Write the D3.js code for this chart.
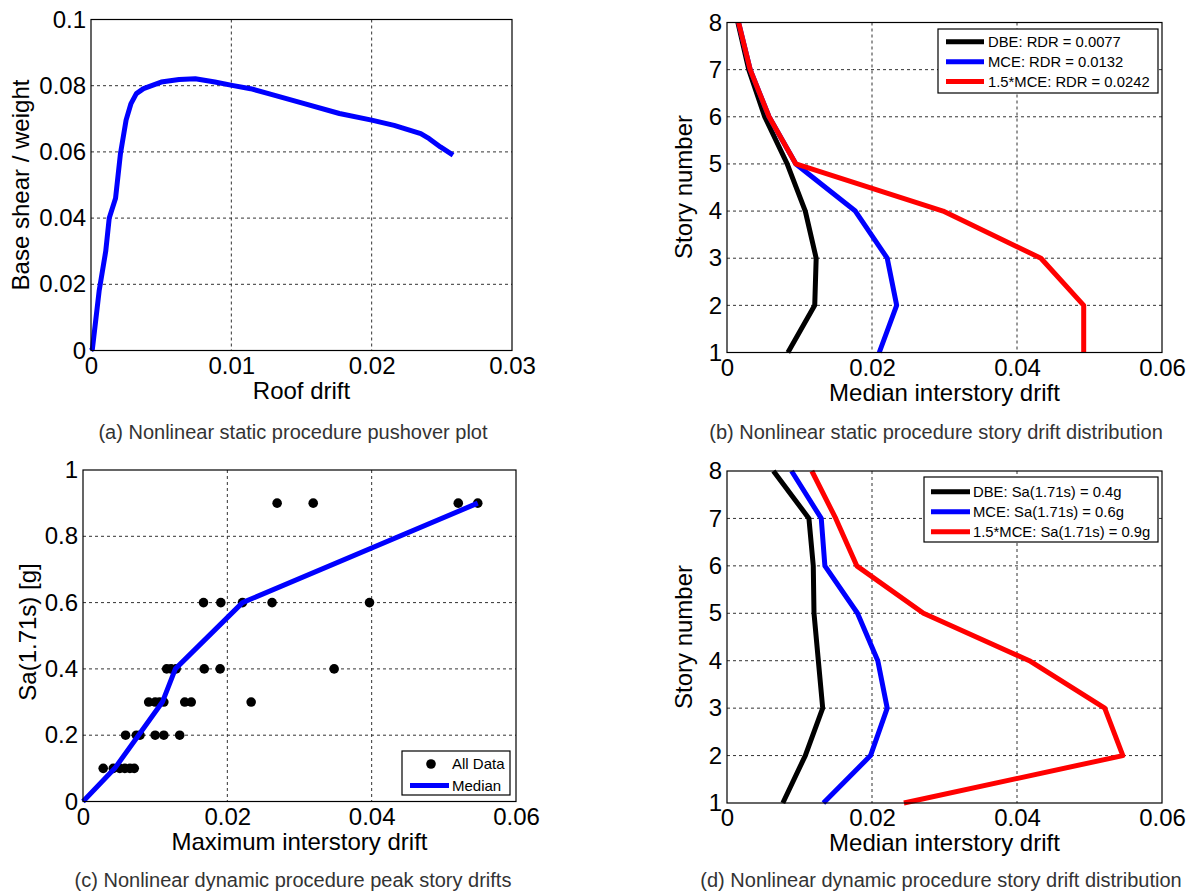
<!DOCTYPE html>
<html>
<head>
<meta charset="utf-8">
<script src="https://cdn.jsdelivr.net/npm/d3@7/dist/d3.min.js"></script>
<style>
body { margin: 0; background: #fff; }
svg text { font-family: "Liberation Sans", Arial, sans-serif; }
</style>
</head>
<body>
<svg id="fig" width="1203" height="895"></svg>
<script>
// (a) pushover curve
var pushDrift = [0, 0.0001, 0.00058, 0.00105, 0.0013, 0.00175, 0.0021, 0.0025, 0.00285, 0.00323, 0.00374, 0.0050, 0.00628, 0.00743, 0.00883, 0.01005, 0.01137, 0.01265, 0.0152, 0.0177, 0.0200, 0.0216, 0.0235, 0.0241, 0.0249, 0.0258];
var pushShear = [0, 0.0005, 0.018, 0.030, 0.040, 0.046, 0.0595, 0.0696, 0.0746, 0.0776, 0.0791, 0.0811, 0.0819, 0.0821, 0.0811, 0.0801, 0.0791, 0.0776, 0.0746, 0.0716, 0.0696, 0.068, 0.0655, 0.064, 0.0615, 0.059];

// (b) static story drifts, story 1..8
var stories = [1, 2, 3, 4, 5, 6, 7, 8];
var nspDBE = [0.0084, 0.0121, 0.0123, 0.0108, 0.0083, 0.0052, 0.0030, 0.0015];
var nspMCE = [0.0210, 0.0234, 0.0221, 0.0177, 0.0095, 0.0058, 0.0032, 0.0016];
var nspMCE15 = [0.0492, 0.0492, 0.0433, 0.0298, 0.0095, 0.0058, 0.0032, 0.0016];
var nspNames = ["DBE: RDR = 0.0077", "MCE: RDR = 0.0132", "1.5*MCE: RDR = 0.0242"];

// (c) peak story drifts, all records + median
var allDrift = [0.0028, 0.0042, 0.0051, 0.0058, 0.0065, 0.0071,
                0.0059, 0.0074, 0.0079, 0.0100, 0.0112, 0.0134,
                0.0091, 0.0100, 0.0106, 0.0112, 0.0141, 0.0150, 0.0233,
                0.0116, 0.0122, 0.0129, 0.0168, 0.0190, 0.0348,
                0.0167, 0.0191, 0.0221, 0.0262, 0.0397,
                0.0269, 0.0319, 0.0520, 0.0547];
var allSa = [0.1, 0.1, 0.1, 0.1, 0.1, 0.1,
             0.2, 0.2, 0.2, 0.2, 0.2, 0.2,
             0.3, 0.3, 0.3, 0.3, 0.3, 0.3, 0.3,
             0.4, 0.4, 0.4, 0.4, 0.4, 0.4,
             0.6, 0.6, 0.6, 0.6, 0.6,
             0.9, 0.9, 0.9, 0.9];
var medDrift = [0, 0.0044, 0.0077, 0.0110, 0.0128, 0.0221, 0.0547];
var medSa = [0, 0.1, 0.2, 0.3, 0.4, 0.6, 0.9];

// (d) dynamic story drifts
var ndpDBE = [0.0077, 0.0108, 0.0132, 0.0126, 0.0120, 0.0119, 0.0113, 0.0064];
var ndpMCE = [0.0133, 0.0198, 0.0221, 0.0208, 0.0180, 0.0135, 0.0130, 0.0089];
var ndpMCE15 = [0.0244, 0.0546, 0.0521, 0.0417, 0.0271, 0.0179, 0.0150, 0.0117];
var ndpNames = ["DBE: Sa(1.71s) = 0.4g", "MCE: Sa(1.71s) = 0.6g", "1.5*MCE: Sa(1.71s) = 0.9g"];

var captions = ["(a) Nonlinear static procedure pushover plot",
                "(b) Nonlinear static procedure story drift distribution",
                "(c) Nonlinear dynamic procedure peak story drifts",
                "(d) Nonlinear dynamic procedure story drift distribution"];

var colors = ["#000000", "#0000ff", "#ff0000"];
var FONT = "'Liberation Sans', Arial, sans-serif";
var LW = 5;
var svg = d3.select("#fig");

function fmt(d) { return String(+d.toFixed(3)); }

// frame, grid and tick labels for one panel
function panel(box, xDom, yDom, xTicks, yTicks, xLabel, yLabel, yLabelX, yLabelY) {
    var x = d3.scaleLinear().domain(xDom).range([box.x0, box.x1]);
    var y = d3.scaleLinear().domain(yDom).range([box.y1, box.y0]);
    var g = svg.append("g");

    var grid = g.append("g").attr("stroke", "#333").attr("stroke-width", 1).attr("stroke-dasharray", "3,3");
    grid.selectAll(".gx").data(xTicks.slice(1, -1)).enter().append("line")
        .attr("x1", function (d) { return x(d); }).attr("x2", function (d) { return x(d); })
        .attr("y1", box.y0).attr("y2", box.y1);
    grid.selectAll(".gy").data(yTicks.slice(1, -1)).enter().append("line")
        .attr("y1", function (d) { return y(d); }).attr("y2", function (d) { return y(d); })
        .attr("x1", box.x0).attr("x2", box.x1);

    var ax = g.append("g").attr("transform", "translate(0," + box.y1 + ")")
        .call(d3.axisBottom(x).tickValues(xTicks).tickFormat(fmt).tickSize(0).tickPadding(6));
    var ay = g.append("g").attr("transform", "translate(" + box.x0 + ",0)")
        .call(d3.axisLeft(y).tickValues(yTicks).tickFormat(fmt).tickSize(0).tickPadding(5));
    [ax, ay].forEach(function (a) {
        a.select(".domain").remove();
        a.selectAll("text").attr("font-size", 24).attr("fill", "#000").style("font-family", FONT);
    });

    g.append("text").attr("x", (box.x0 + box.x1) / 2).attr("y", box.y1 + 48)
        .attr("text-anchor", "middle").attr("font-size", 24).text(xLabel);
    g.append("text").attr("transform", "translate(" + yLabelX + "," + yLabelY + ") rotate(-90)")
        .attr("text-anchor", "middle").attr("dy", "0.35em").attr("font-size", 24).text(yLabel);

    return { g: g, x: x, y: y, box: box };
}

function frame(p) {
    p.g.append("rect").attr("x", p.box.x0).attr("y", p.box.y0)
        .attr("width", p.box.x1 - p.box.x0).attr("height", p.box.y1 - p.box.y0)
        .attr("fill", "none").attr("stroke", "#000").attr("stroke-width", 1.2);
}

function curve(p, xs, ys, color) {
    var line = d3.line().x(function (d) { return p.x(d[0]); }).y(function (d) { return p.y(d[1]); });
    p.g.append("path").datum(d3.zip(xs, ys)).attr("d", line)
        .attr("fill", "none").attr("stroke", color).attr("stroke-width", LW)
        .attr("stroke-linejoin", "round");
}

function storyLegend(p, names, bx, by, bw, bh, lineX0, lineX1, textX, rowY) {
    var lg = p.g.append("g");
    lg.append("rect").attr("x", bx).attr("y", by).attr("width", bw).attr("height", bh)
        .attr("fill", "#fff").attr("stroke", "#000").attr("stroke-width", 1.2);
    names.forEach(function (n, i) {
        var yy = rowY[i];
        lg.append("line").attr("x1", lineX0).attr("x2", lineX1).attr("y1", yy).attr("y2", yy)
            .attr("stroke", colors[i]).attr("stroke-width", LW);
        lg.append("text").attr("x", textX).attr("y", yy).attr("dy", "0.36em")
            .attr("font-size", 14.8).text(n);
    });
}

// (a)
var pa = panel({ x0: 91, x1: 512, y0: 19.5, y1: 350.5 }, [0, 0.03], [0, 0.1],
    [0, 0.01, 0.02, 0.03], [0, 0.02, 0.04, 0.06, 0.08, 0.1],
    "Roof drift", "Base shear / weight", 21, 185);
curve(pa, pushDrift, pushShear, colors[1]);
frame(pa);

// (b)
var pb = panel({ x0: 727, x1: 1162, y0: 22.5, y1: 352.5 }, [0, 0.06], [1, 8],
    [0, 0.02, 0.04, 0.06], stories,
    "Median interstory drift", "Story number", 684, 187);
curve(pb, nspDBE, stories, colors[0]);
curve(pb, nspMCE, stories, colors[1]);
curve(pb, nspMCE15, stories, colors[2]);
frame(pb);
storyLegend(pb, nspNames, 938, 29, 220, 64, 946, 984, 988, [41.7, 61.7, 81.5]);

// (c)
var pc = panel({ x0: 83, x1: 516, y0: 470, y1: 801.5 }, [0, 0.06], [0, 1],
    [0, 0.02, 0.04, 0.06], [0, 0.2, 0.4, 0.6, 0.8, 1],
    "Maximum interstory drift", "Sa(1.71s) [g]", 28, 632);
pc.g.selectAll(".dot").data(d3.zip(allDrift, allSa)).enter().append("circle")
    .attr("cx", function (d) { return pc.x(d[0]); })
    .attr("cy", function (d) { return pc.y(d[1]); })
    .attr("r", 4.8).attr("fill", "#000");
curve(pc, medDrift, medSa, colors[1]);
frame(pc);
var lc = pc.g.append("g");
lc.append("rect").attr("x", 402).attr("y", 751).attr("width", 108).attr("height", 44)
    .attr("fill", "#fff").attr("stroke", "#000").attr("stroke-width", 1.2);
lc.append("circle").attr("cx", 431).attr("cy", 764).attr("r", 4.8).attr("fill", "#000");
lc.append("text").attr("x", 452).attr("y", 764).attr("dy", "0.36em").attr("font-size", 15).text("All Data");
lc.append("line").attr("x1", 410).attr("x2", 449).attr("y1", 785.5).attr("y2", 785.5)
    .attr("stroke", colors[1]).attr("stroke-width", LW);
lc.append("text").attr("x", 452).attr("y", 785.5).attr("dy", "0.36em").attr("font-size", 15).text("Median");

// (d)
var pd = panel({ x0: 727, x1: 1162, y0: 471, y1: 803 }, [0, 0.06], [1, 8],
    [0, 0.02, 0.04, 0.06], stories,
    "Median interstory drift", "Story number", 684, 637);
curve(pd, ndpDBE, stories, colors[0]);
curve(pd, ndpMCE, stories, colors[1]);
curve(pd, ndpMCE15, stories, colors[2]);
frame(pd);
storyLegend(pd, ndpNames, 924, 477, 234, 65, 931, 970, 973, [491.7, 511.7, 531.7]);

// captions under each panel
var capPos = [[293, 439], [936, 439], [293, 887], [941, 887]];
svg.selectAll(".cap").data(captions).enter().append("text")
    .attr("x", function (d, i) { return capPos[i][0]; })
    .attr("y", function (d, i) { return capPos[i][1]; })
    .attr("text-anchor", "middle").attr("font-size", 20).attr("fill", "#333")
    .text(function (d) { return d; });
</script>
</body>
</html>
